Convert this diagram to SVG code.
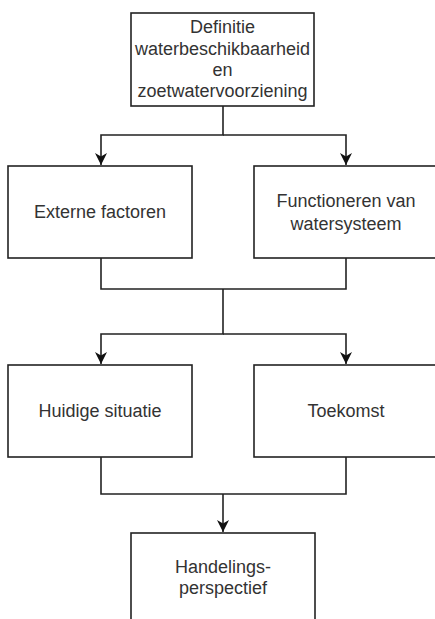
<svg xmlns="http://www.w3.org/2000/svg" width="435" height="619" viewBox="0 0 435 619">
  <defs>
    <marker id="arr" viewBox="0 0 10 10" refX="10" refY="5" markerWidth="12" markerHeight="12" markerUnits="userSpaceOnUse" orient="auto">
      <path d="M0,0 L10,5 L0,10 L3,5 Z" fill="#111"/>
    </marker>
    <style>
      .box { fill: #ffffff; stroke: #222; stroke-width: 1.6; }
      .lbl { font-family: "Liberation Sans", Arial, sans-serif; font-size: 18px; fill: #333; text-anchor: middle; }
      .edge { fill: none; stroke: #222; stroke-width: 1.6; }
    </style>
  </defs>
  <rect width="435" height="619" fill="#ffffff"/>
  <g id="connectors">
    <path class="edge" d="M223,106 V135 H101 V165" marker-end="url(#arr)"/>
    <path class="edge" d="M223,135 H346 V165" marker-end="url(#arr)"/>
    <path class="edge" d="M101,258 V289 H346 V258"/>
    <path class="edge" d="M223,289 V334 H101 V364" marker-end="url(#arr)"/>
    <path class="edge" d="M223,334 H346 V364" marker-end="url(#arr)"/>
    <path class="edge" d="M101,457 V494 H346 V457"/>
    <path class="edge" d="M223,494 V532" marker-end="url(#arr)"/>
  </g>
  <g id="node-definitie">
    <rect class="box" x="131" y="13" width="183" height="93"/>
    <text class="lbl" x="222.5" y="33">Definitie</text>
    <text class="lbl" x="222.5" y="55">waterbeschikbaarheid</text>
    <text class="lbl" x="222.5" y="76">en</text>
    <text class="lbl" x="222.5" y="97">zoetwatervoorziening</text>
  </g>
  <g id="node-externe">
    <rect class="box" x="8" y="166" width="184" height="92"/>
    <text class="lbl" x="100" y="218">Externe factoren</text>
  </g>
  <g id="node-functioneren">
    <rect class="box" x="254" y="166" width="184" height="92"/>
    <text class="lbl" x="346" y="207">Functioneren van</text>
    <text class="lbl" x="346" y="230">watersysteem</text>
  </g>
  <g id="node-huidige">
    <rect class="box" x="8" y="365" width="184" height="92"/>
    <text class="lbl" x="100" y="417">Huidige situatie</text>
  </g>
  <g id="node-toekomst">
    <rect class="box" x="254" y="365" width="184" height="92"/>
    <text class="lbl" x="346" y="417">Toekomst</text>
  </g>
  <g id="node-handelings">
    <rect class="box" x="131" y="533" width="184" height="100"/>
    <text class="lbl" x="223" y="573">Handelings-</text>
    <text class="lbl" x="223" y="594">perspectief</text>
  </g>
</svg>
